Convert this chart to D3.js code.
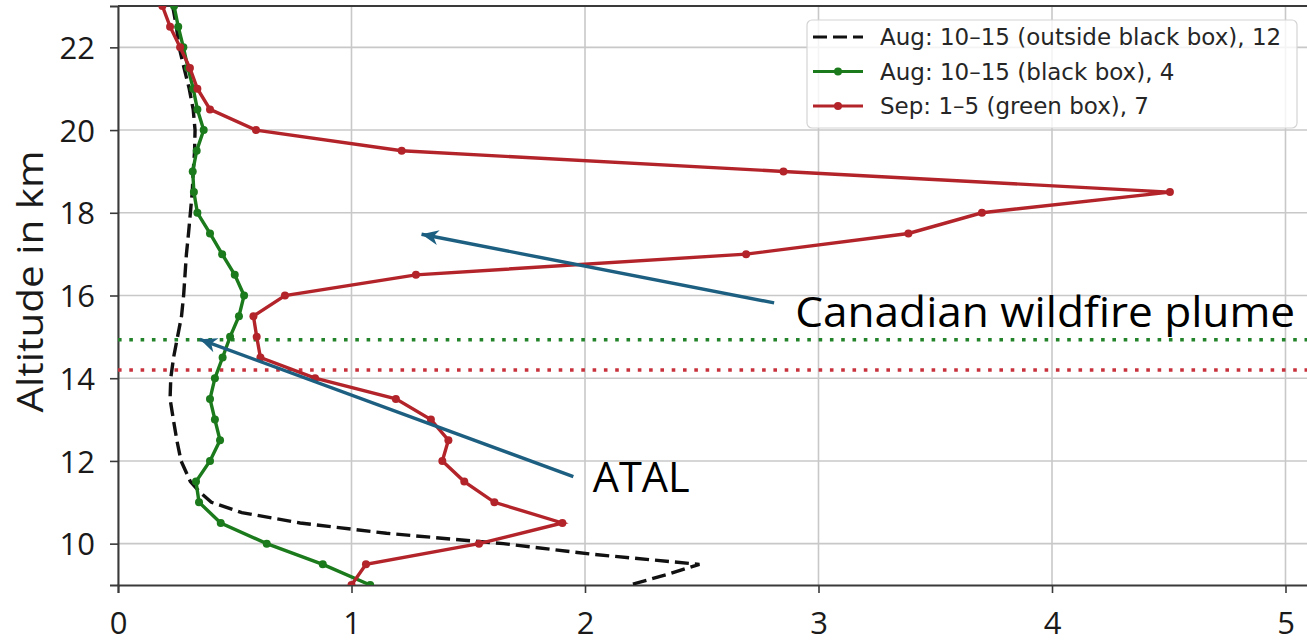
<!DOCTYPE html>
<html>
<head>
<meta charset="utf-8">
<script src="https://cdn.jsdelivr.net/npm/d3@7"></script>
<style>
  html, body { margin: 0; padding: 0; background: #fff; }
  svg { display: block; }
</style>
</head>
<body>
<div id="chart"></div>
<script>
// altitude levels (km) shared by the two marked profiles
const altLevels = [23, 22.5, 22, 21.5, 21, 20.5, 20, 19.5, 19, 18.5, 18, 17.5, 17, 16.5, 16,
  15.5, 15, 14.5, 14, 13.5, 13, 12.5, 12, 11.5, 11, 10.5, 10, 9.5, 9];

// Sep: 1–5 (green box), 7
const sepValues = [0.19, 0.223, 0.266, 0.308, 0.34, 0.394, 0.591, 1.215, 2.85, 4.505, 3.70, 3.385,
  2.69, 1.276, 0.715, 0.58, 0.594, 0.61, 0.844, 1.19, 1.34, 1.415, 1.389, 1.483, 1.612, 1.903,
  1.546, 1.062, 1.0];

// Aug: 10–15 (black box), 4
const augBoxValues = [0.24, 0.258, 0.28, 0.30, 0.322, 0.34, 0.367, 0.337, 0.32, 0.325, 0.34, 0.394,
  0.446, 0.50, 0.54, 0.518, 0.48, 0.448, 0.415, 0.394, 0.415, 0.437, 0.394, 0.334, 0.347, 0.44,
  0.637, 0.877, 1.08];

// Aug: 10–15 (outside black box), 12
const augOutAlt = [23, 22.5, 22, 21.5, 21, 20.5, 20, 19.5, 19, 18.5, 18, 17.5, 17, 16.5, 16, 15.5,
  15, 14.5, 14, 13.5, 13, 12.5, 12, 11.5, 11.25, 11, 10.75, 10.5, 10.25, 10, 9.75, 9.5, 9.25, 9];
const augOutValues = [0.234, 0.25, 0.262, 0.283, 0.305, 0.322, 0.33, 0.328, 0.322, 0.318, 0.31,
  0.302, 0.293, 0.287, 0.281, 0.272, 0.255, 0.238, 0.226, 0.223, 0.237, 0.252, 0.27, 0.31, 0.35,
  0.40, 0.53, 0.78, 1.15, 1.65, 2.02, 2.49, 2.35, 2.19];

const xTicks = [0, 1, 2, 3, 4, 5];
const yTicks = [10, 12, 14, 16, 18, 20, 22];

// dotted reference levels (green box, red box)
const refLevels = [14.93, 14.2];

const legendLabels = [
  "Aug: 10\u201315 (outside black box), 12",
  "Aug: 10\u201315 (black box), 4",
  "Sep: 1\u20135 (green box), 7"
];

// annotations: [text, text x, text baseline alt, arrow tail x, tail alt, tip x, tip alt]
const notes = [
  ["Canadian wildfire plume", 2.90, 15.24, 2.81, 15.82, 1.30, 17.48],
  ["ATAL", 2.033, 11.25, 1.95, 11.62, 0.351, 14.94]
];

(function(){
const W = 1307, H = 643;
const pLeft = 118, pTop = 6, pBottom = 585;

const svg = d3.select("#chart").append("svg")
  .attr("width", W).attr("height", H);

const x = d3.scaleLinear().domain([0, 5.2]).range([pLeft, pLeft + 5.2 * 233.5]);
const y = d3.scaleLinear().domain([9, 23]).range([pBottom, pTop]);
const pRight = x(5.2);

const colGreen = "#1b7a1b", colRed = "#b3242a", colArrow = "#1d5f80";
const tickFont = "'Open Sans', 'Noto Sans', sans-serif";

const defs = svg.append("defs");
defs.append("clipPath").attr("id", "plot-clip")
  .append("rect").attr("x", pLeft).attr("y", pTop)
  .attr("width", pRight - pLeft).attr("height", pBottom - pTop);

// grid
svg.append("g").selectAll("line").data(xTicks).join("line")
  .attr("x1", d => x(d)).attr("x2", d => x(d))
  .attr("y1", pTop).attr("y2", pBottom)
  .attr("stroke", "#c8c8c8").attr("stroke-width", 1.6);
svg.append("g").selectAll("line").data(yTicks).join("line")
  .attr("x1", pLeft).attr("x2", pRight)
  .attr("y1", d => y(d)).attr("y2", d => y(d))
  .attr("stroke", "#c8c8c8").attr("stroke-width", 1.6);

// axes
const xAxis = svg.append("g")
  .attr("transform", `translate(0,${pBottom})`)
  .call(d3.axisBottom(x).tickValues(xTicks).tickFormat(d3.format("d")).tickSize(8).tickPadding(19));
const yAxis = svg.append("g")
  .attr("transform", `translate(${pLeft},0)`)
  .call(d3.axisLeft(y).tickValues(yTicks).tickSize(8).tickPadding(15));

[xAxis, yAxis].forEach(g => {
  g.select(".domain").attr("stroke", "#3a3a3a").attr("stroke-width", 2);
  g.selectAll(".tick line").attr("stroke", "#3a3a3a").attr("stroke-width", 1.6);
  g.selectAll(".tick text")
    .attr("fill", "#1a1a1a")
    .style("font-family", tickFont)
    .style("font-size", "31px");
});
yAxis.selectAll(".tick text").attr("dy", "0.36em");

// top frame line
svg.append("line")
  .attr("x1", pLeft).attr("x2", pRight).attr("y1", pTop).attr("y2", pTop)
  .attr("stroke", "#3a3a3a").attr("stroke-width", 2);

// axis label
svg.append("text")
  .attr("transform", `translate(43,${(pTop + pBottom) / 2 - 14}) rotate(-90)`)
  .attr("text-anchor", "middle")
  .attr("textLength", 262)
  .attr("lengthAdjust", "spacingAndGlyphs")
  .style("font-family", tickFont)
  .style("font-size", "36px")
  .attr("fill", "#1a1a1a")
  .text("Altitude in km");

const plot = svg.append("g").attr("clip-path", "url(#plot-clip)");

// dotted reference levels
plot.selectAll("line.ref").data(refLevels).join("line")
  .attr("class", "ref")
  .attr("x1", pLeft).attr("x2", pRight)
  .attr("y1", d => y(d)).attr("y2", d => y(d))
  .attr("stroke", (d, i) => i === 0 ? "#23832a" : "#c8323c")
  .attr("stroke-width", 3.6)
  .attr("stroke-dasharray", "3.6,7.7");

const line = d3.line().x(d => x(d[0])).y(d => y(d[1]));

const outPts = augOutValues.map((v, i) => [v, augOutAlt[i]]);
const boxPts = augBoxValues.map((v, i) => [v, altLevels[i]]);
const sepPts = sepValues.map((v, i) => [v, altLevels[i]]);

plot.append("path").datum(outPts)
  .attr("d", line).attr("fill", "none")
  .attr("stroke", "#111").attr("stroke-width", 3.4)
  .attr("stroke-dasharray", "14,6");

[[boxPts, colGreen], [sepPts, colRed]].forEach(([pts, col]) => {
  plot.append("path").datum(pts)
    .attr("d", line).attr("fill", "none")
    .attr("stroke", col).attr("stroke-width", 3.4);
  plot.append("g").selectAll("circle").data(pts).join("circle")
    .attr("cx", d => x(d[0])).attr("cy", d => y(d[1]))
    .attr("r", 4).attr("fill", col);
});

// arrows + annotation text
defs.append("marker")
  .attr("id", "head").attr("viewBox", "-18 -9 20 18")
  .attr("refX", 0).attr("refY", 0)
  .attr("markerWidth", 20).attr("markerHeight", 18)
  .attr("markerUnits", "userSpaceOnUse")
  .attr("orient", "auto")
  .append("path").attr("d", "M0,0 L-17,-7.5 L-12,0 L-17,7.5 Z").attr("fill", colArrow);

notes.forEach(n => {
  svg.append("line")
    .attr("x1", x(n[3])).attr("y1", y(n[4]))
    .attr("x2", x(n[5])).attr("y2", y(n[6]))
    .attr("stroke", colArrow).attr("stroke-width", 3.4)
    .attr("marker-end", "url(#head)");
  svg.append("text")
    .attr("x", x(n[1])).attr("y", y(n[2]))
    .style("font-family", tickFont)
    .style("font-size", "42px")
    .attr("fill", "#000")
    .attr("textLength", n[0] === "ATAL" ? 97 : 500)
    .attr("lengthAdjust", "spacingAndGlyphs")
    .text(n[0]);
});

// legend
const lg = svg.append("g").attr("transform", "translate(807,20)");
lg.append("rect")
  .attr("width", 490).attr("height", 108).attr("rx", 5)
  .attr("fill", "#fff").attr("fill-opacity", 0.8)
  .attr("stroke", "#d4d4d4").attr("stroke-width", 1.2);

const legendStyles = [
  { color: "#111", dash: "14,6", marker: false },
  { color: colGreen, dash: null, marker: true },
  { color: colRed, dash: null, marker: true }
];

legendLabels.forEach((lab, i) => {
  const cy = 17 + i * 34.5;
  const st = legendStyles[i];
  lg.append("line")
    .attr("x1", 6).attr("x2", 56).attr("y1", cy).attr("y2", cy)
    .attr("stroke", st.color).attr("stroke-width", 3.2)
    .attr("stroke-dasharray", st.dash);
  if (st.marker) {
    lg.append("circle").attr("cx", 31).attr("cy", cy).attr("r", 4).attr("fill", st.color);
  }
  lg.append("text")
    .attr("x", 73).attr("y", cy + 8)
    .style("font-family", "'DejaVu Sans', sans-serif")
    .style("font-size", "23px")
    .attr("fill", "#262626")
    .text(lab);
});
})();
</script>
</body>
</html>
